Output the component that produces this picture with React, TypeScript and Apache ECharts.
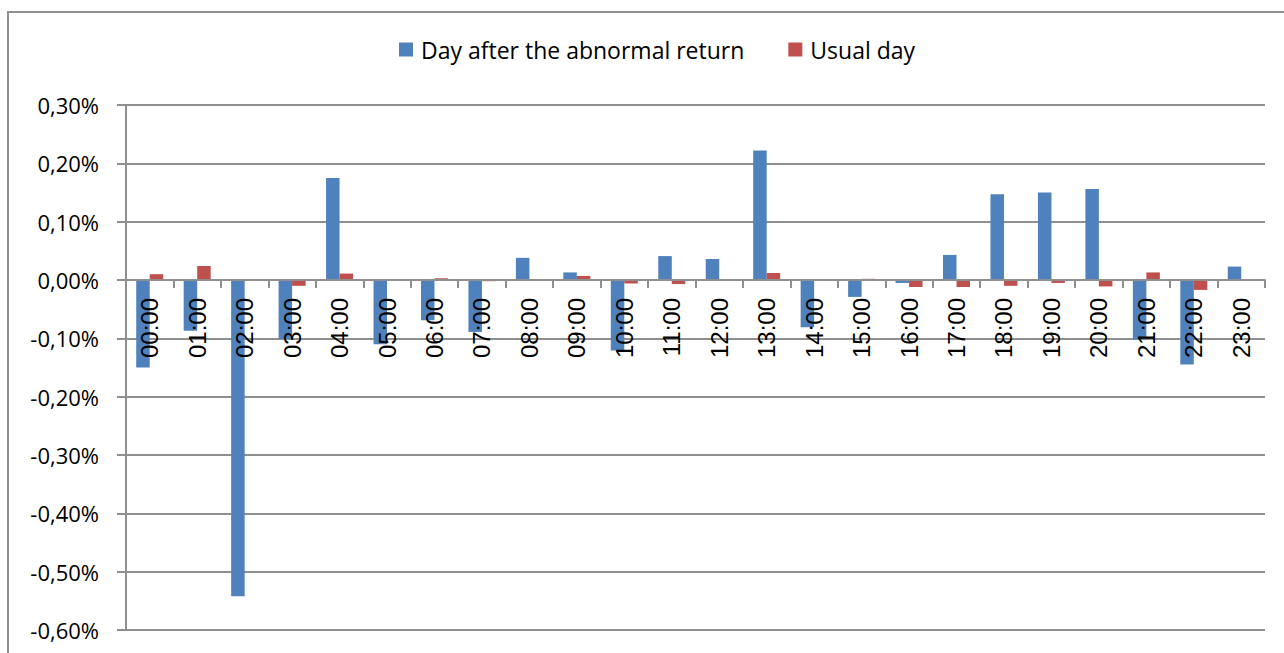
import React, { useEffect, useRef } from "react";
import * as echarts from "echarts";

const hours = [
  "00:00", "01:00", "02:00", "03:00", "04:00", "05:00", "06:00", "07:00",
  "08:00", "09:00", "10:00", "11:00", "12:00", "13:00", "14:00", "15:00",
  "16:00", "17:00", "18:00", "19:00", "20:00", "21:00", "22:00", "23:00",
];

// values in percent
const dayAfterAbnormal = [
  -0.150, -0.087, -0.542, -0.101, 0.175, -0.110, -0.069, -0.089,
  0.038, 0.013, -0.121, 0.041, 0.036, 0.222, -0.081, -0.029,
  -0.005, 0.043, 0.147, 0.150, 0.156, -0.102, -0.145, 0.023,
];

const usualDay = [
  0.010, 0.024, 0.000, -0.010, 0.011, 0.000, 0.003, -0.002,
  -0.001, 0.007, -0.006, -0.007, 0.000, 0.012, 0.000, 0.002,
  -0.012, -0.012, -0.010, -0.005, -0.011, 0.013, -0.017, 0.000,
];

const seriesNames = ["Day after the abnormal return", "Usual day"];
const yMin = -0.6;
const yMax = 0.3;
const yStep = 0.1;

const GRID = "#8f8f8f";
const GRID_TOP = 105;
const GRID_BOTTOM_Y = 630;

export default function App() {
  const ref = useRef<HTMLDivElement>(null);
  useEffect(() => {
    document.body.style.margin = "0";
    const chart = echarts.init(ref.current!, undefined, { renderer: "svg" });
    // pixel offset that puts the category axis on the zero line
    const zeroY = GRID_TOP + ((yMax - 0) / (yMax - yMin)) * (GRID_BOTTOM_Y - GRID_TOP);
    const axisOffset = -(GRID_BOTTOM_Y - zeroY);
    chart.setOption({
      animation: false,
      backgroundColor: "#ffffff",
      graphic: [
        {
          type: "rect",
          shape: { x: 8, y: 12, width: 1300, height: 700 },
          style: { fill: "none", stroke: GRID, lineWidth: 2 },
          z: -1,
        },
      ],
      legend: {
        left: 399,
        top: 38,
        padding: 0,
        itemWidth: 14,
        itemHeight: 14,
        itemGap: 44,
        icon: "rect",
        textStyle: {
          fontFamily: "Open Sans",
          fontSize: 23,
          color: "#000000",
          padding: [0, 0, 0, 3],
        },
        data: seriesNames,
      },
      grid: {
        left: 126,
        right: 19,
        top: GRID_TOP,
        bottom: 653 - GRID_BOTTOM_Y,
        containLabel: false,
        outerBoundsMode: "none",
      },
      xAxis: {
        type: "category",
        data: hours,
        z: 10,
        offset: axisOffset,
        axisLine: { onZero: false, lineStyle: { color: GRID, width: 2 } },
        axisTick: { show: true, inside: false, length: 8, lineStyle: { color: GRID, width: 2 } },
        axisLabel: {
          rotate: 90,
          margin: 18,
          fontFamily: "Liberation Sans",
          fontSize: 24,
          color: "#000000",
          interval: 0,
        },
        splitLine: { show: false },
      },
      yAxis: {
        type: "value",
        min: yMin,
        max: yMax,
        interval: yStep,
        axisLine: { show: true, lineStyle: { color: GRID, width: 2 } },
        axisTick: { show: true, length: 9, lineStyle: { color: GRID, width: 2 } },
        axisLabel: {
          margin: 27,
          fontFamily: "Open Sans",
          fontSize: 22,
          color: "#000000",
          formatter: (v: number) => v.toFixed(2).replace(".", ",") + "%",
        },
        splitLine: { show: true, lineStyle: { color: GRID, width: 2 } },
      },
      series: [
        {
          name: seriesNames[0],
          type: "bar",
          data: dayAfterAbnormal,
          barWidth: 13.5,
          barGap: "0%",
          itemStyle: { color: "#4F81BD" },
        },
        {
          name: seriesNames[1],
          type: "bar",
          data: usualDay,
          barWidth: 13.5,
          barGap: "0%",
          itemStyle: { color: "#C0504D" },
        },
      ],
    });
    return () => chart.dispose();
  }, []);
  return (
    <div
      ref={ref}
      style={{ position: "absolute", left: 0, top: 0, width: 1284, height: 653 }}
    />
  );
}
